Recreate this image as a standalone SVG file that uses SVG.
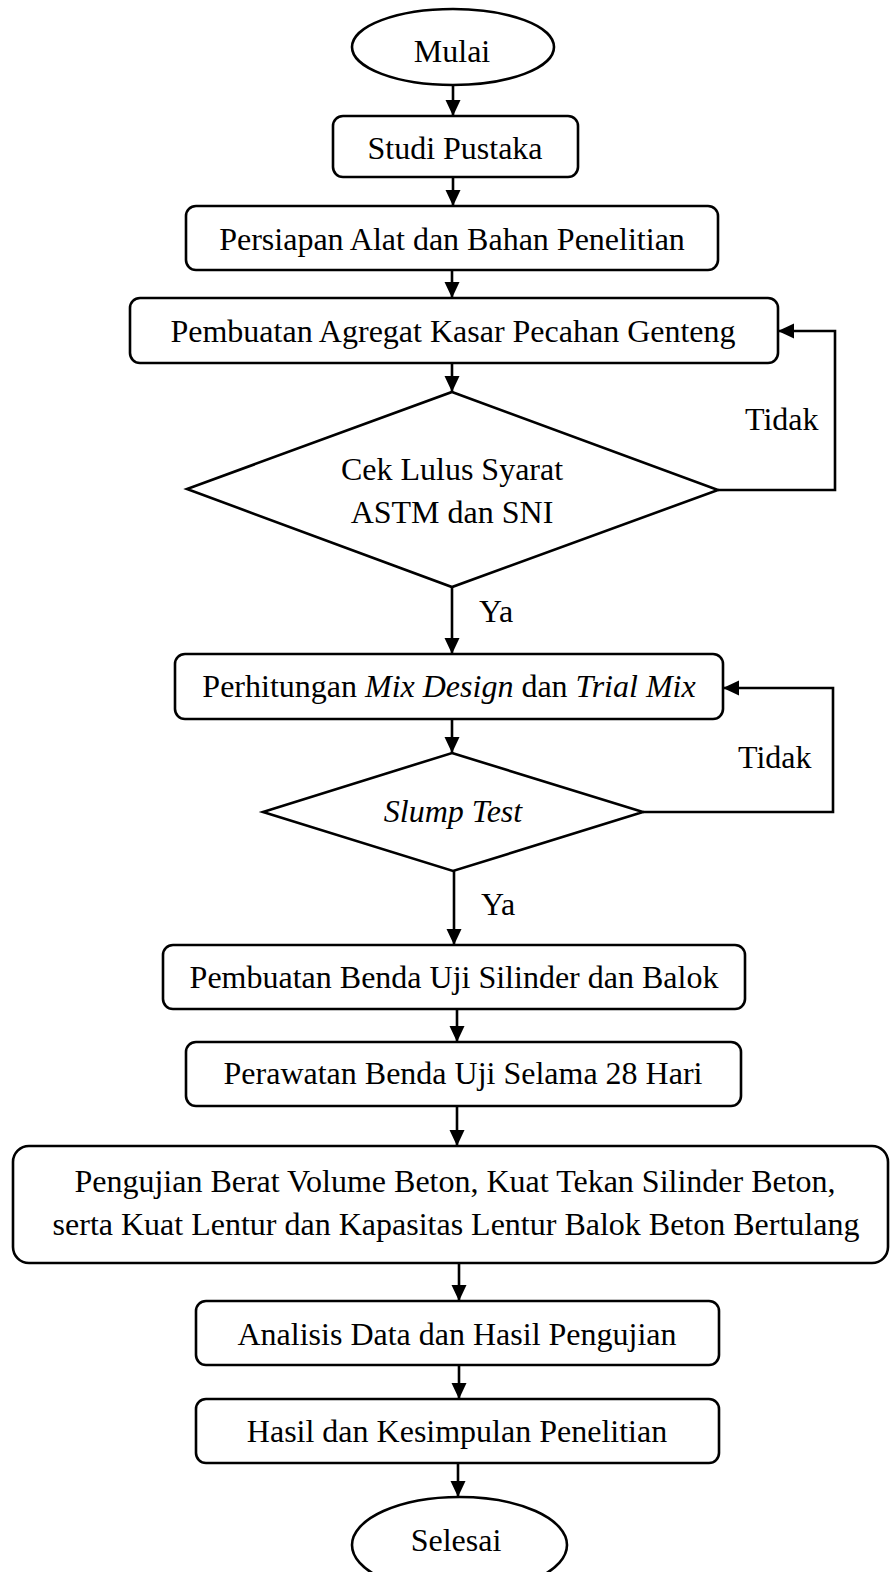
<svg xmlns="http://www.w3.org/2000/svg" width="890" height="1572" viewBox="0 0 890 1572">
<style>
.s{fill:#fff;stroke:#000;stroke-width:2.6}
.t{font-family:"Liberation Serif","Times New Roman",serif;font-size:32px;fill:#000;text-anchor:middle}
.l{font-family:"Liberation Serif","Times New Roman",serif;font-size:32px;fill:#000}
.c{fill:none;stroke:#000;stroke-width:2.6}
</style>
<defs>
<marker id="ah" markerUnits="userSpaceOnUse" markerWidth="18" markerHeight="16" refX="16" refY="7.5" orient="auto">
<path d="M0,0 L16,7.5 L0,15 z" fill="#000"/>
</marker>
</defs>
<rect width="890" height="1572" fill="#fff"/>
<g id="connectors">
<path class="c" d="M453,85 V116" marker-end="url(#ah)"/>
<path class="c" d="M453,177 V206" marker-end="url(#ah)"/>
<path class="c" d="M452,270 V298" marker-end="url(#ah)"/>
<path class="c" d="M452,363 V392" marker-end="url(#ah)"/>
<path class="c" d="M452,587 V654" marker-end="url(#ah)"/>
<path class="c" d="M718,490 H835 V331 H778" marker-end="url(#ah)"/>
<path class="c" d="M452,719 V753" marker-end="url(#ah)"/>
<path class="c" d="M454,871 V945" marker-end="url(#ah)"/>
<path class="c" d="M643,812 H833 V688 H723" marker-end="url(#ah)"/>
<path class="c" d="M457,1009 V1042" marker-end="url(#ah)"/>
<path class="c" d="M457,1106 V1146" marker-end="url(#ah)"/>
<path class="c" d="M459,1263 V1301" marker-end="url(#ah)"/>
<path class="c" d="M459,1365 V1399" marker-end="url(#ah)"/>
<path class="c" d="M458,1463 V1497" marker-end="url(#ah)"/>
<text class="l" x="745" y="430">Tidak</text>
<text class="l" x="738" y="768">Tidak</text>
<text class="l" x="479" y="622">Ya</text>
<text class="l" x="481" y="915">Ya</text>
</g>
<g id="mulai">
<ellipse class="s" cx="453" cy="47" rx="101" ry="38"/>
<text class="t" x="452" y="62">Mulai</text>
</g>
<g id="studi">
<rect class="s" x="333" y="116" width="245" height="61" rx="10"/>
<text class="t" x="455" y="159">Studi Pustaka</text>
</g>
<g id="persiapan">
<rect class="s" x="186" y="206" width="532" height="64" rx="10"/>
<text class="t" x="452" y="250">Persiapan Alat dan Bahan Penelitian</text>
</g>
<g id="agregat">
<rect class="s" x="130" y="298" width="648" height="65" rx="10"/>
<text class="t" x="453" y="342">Pembuatan Agregat Kasar Pecahan Genteng</text>
</g>
<g id="cek">
<polygon class="s" points="452,392 718,490 452,587 187,489"/>
<text class="t" x="452" y="480">Cek Lulus Syarat</text>
<text class="t" x="452" y="523">ASTM dan SNI</text>
</g>
<g id="mix">
<rect class="s" x="175" y="654" width="548" height="65" rx="10"/>
<text class="t" x="449" y="697">Perhitungan <tspan font-style="italic">Mix Design</tspan> dan <tspan font-style="italic">Trial Mix</tspan></text>
</g>
<g id="slump">
<polygon class="s" points="452,753 643,812 453,871 263,812"/>
<text class="t" x="453" y="822" font-style="italic">Slump Test</text>
</g>
<g id="benda">
<rect class="s" x="163" y="945" width="582" height="64" rx="10"/>
<text class="t" x="454" y="988">Pembuatan Benda Uji Silinder dan Balok</text>
</g>
<g id="perawatan">
<rect class="s" x="186" y="1042" width="555" height="64" rx="10"/>
<text class="t" x="463" y="1084">Perawatan Benda Uji Selama 28 Hari</text>
</g>
<g id="pengujian">
<rect class="s" x="13" y="1146" width="875" height="117" rx="16"/>
<text class="t" x="455" y="1192">Pengujian Berat Volume Beton, Kuat Tekan Silinder Beton,</text>
<text class="t" x="456" y="1235">serta Kuat Lentur dan Kapasitas Lentur Balok Beton Bertulang</text>
</g>
<g id="analisis">
<rect class="s" x="196" y="1301" width="523" height="64" rx="10"/>
<text class="t" x="457" y="1345">Analisis Data dan Hasil Pengujian</text>
</g>
<g id="hasil">
<rect class="s" x="196" y="1399" width="523" height="64" rx="10"/>
<text class="t" x="457" y="1442">Hasil dan Kesimpulan Penelitian</text>
</g>
<g id="selesai">
<ellipse class="s" cx="459.5" cy="1545" rx="107.5" ry="48"/>
<text class="t" x="456" y="1551">Selesai</text>
</g>
</svg>
